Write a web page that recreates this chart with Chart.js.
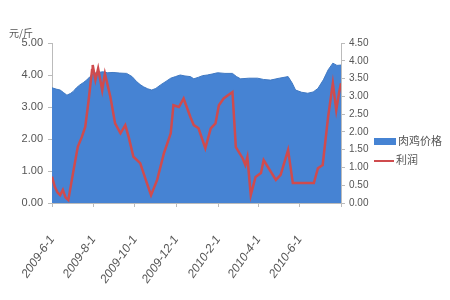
<!DOCTYPE html>
<html>
<head>
<meta charset="utf-8">
<script src="https://cdn.jsdelivr.net/npm/chart.js@4"></script>
<style>
  html, body { margin: 0; padding: 0; background: #fff; }
  #wrap { width: 450px; height: 300px; }
</style>
</head>
<body>
<div id="wrap"><canvas id="chart" width="450" height="300"></canvas></div>
<script>
// x values are days counted from 2009-6-1
const tickDays = [0, 61, 122, 183, 245, 304, 365, 426];
const tickLabels = ['2009-6-1', '2009-8-1', '2009-10-1', '2009-12-1', '2010-2-1', '2010-4-1', '2010-6-1', ''];

// 肉鸡价格 (left axis, 元/斤)
const priceDays = [0, 6, 12, 17, 22, 27, 31, 36, 41, 46, 51, 56, 61, 68, 75, 82, 90, 100, 110, 118, 125, 130, 135, 141, 147, 153, 160, 168, 175, 182, 189, 196, 204, 209, 216, 222, 229, 236, 244, 255, 266, 272, 278, 290, 303, 312, 322, 335, 348, 354, 359, 368, 377, 385, 392, 400, 407, 414, 420, 426];
const priceValues = [3.60, 3.56, 3.53, 3.45, 3.37, 3.42, 3.48, 3.60, 3.69, 3.76, 3.84, 3.95, 4.05, 4.08, 4.10, 4.07, 4.08, 4.06, 4.05, 3.95, 3.79, 3.70, 3.63, 3.57, 3.53, 3.58, 3.69, 3.80, 3.90, 3.95, 4.00, 3.97, 3.95, 3.88, 3.93, 3.98, 4.00, 4.03, 4.07, 4.05, 4.05, 3.95, 3.88, 3.90, 3.90, 3.86, 3.84, 3.90, 3.95, 3.75, 3.53, 3.46, 3.43, 3.47, 3.58, 3.85, 4.16, 4.37, 4.30, 4.31];

// 利润 (right axis)
const profitDays = [0, 4, 8, 12, 16, 20, 24, 31, 38, 44, 49, 54, 59, 60, 64, 68, 74, 78, 86, 93, 101, 108, 113, 120, 130, 140, 146, 155, 165, 175, 179, 187, 194, 204, 209, 216, 226, 234, 241, 246, 253, 266, 271, 281, 285, 288, 293, 300, 308, 312, 330, 337, 348, 355, 371, 386, 392, 399, 407, 414, 419, 423, 426];
const profitValues = [0.74, 0.46, 0.30, 0.22, 0.37, 0.15, 0.08, 0.84, 1.58, 1.86, 2.14, 2.89, 3.74, 3.88, 3.46, 3.78, 3.17, 3.64, 2.99, 2.24, 1.96, 2.19, 1.86, 1.30, 1.12, 0.55, 0.22, 0.65, 1.40, 1.96, 2.75, 2.70, 2.94, 2.42, 2.19, 2.10, 1.54, 2.10, 2.24, 2.75, 2.94, 3.12, 1.57, 1.26, 1.07, 1.29, 0.22, 0.73, 0.84, 1.21, 0.65, 0.79, 1.49, 0.56, 0.56, 0.56, 0.98, 1.07, 2.42, 3.37, 2.61, 3.09, 3.37];

const leftTicks = [0, 1, 2, 3, 4, 5];
const rightTicks = [0, 0.5, 1, 1.5, 2, 2.5, 3, 3.5, 4, 4.5];

const seriesNames = ['肉鸡价格', '利润'];
const unitLabel = '元/斤';

const blue = '#4683d3';
const red = '#cf4b4e';
const textColor = '#555';
const fontFamily = "'Liberation Sans Narrow', 'Liberation Sans', Arial, sans-serif";

function pairs(xs, ys) {
    return xs.map((x, i) => ({ x: x, y: ys[i] }));
}

// legend and unit label drawn on top of the chart
const extras = {
    id: 'extras',
    afterDraw(chart) {
        const c = chart.ctx;
        c.save();
        c.fillStyle = textColor;
        c.font = "10px 'Noto Sans CJK SC', sans-serif";
        c.textBaseline = 'middle';
        c.fillText(unitLabel, 9, 33);

        c.fillStyle = blue;
        c.fillRect(374, 138, 22, 7);
        c.strokeStyle = red;
        c.lineWidth = 2;
        c.beginPath();
        c.moveTo(374, 161);
        c.lineTo(394, 161);
        c.stroke();

        c.fillStyle = textColor;
        c.font = "11px 'Noto Sans CJK SC', sans-serif";
        c.fillText(seriesNames[0], 398, 141);
        c.fillText(seriesNames[1], 396, 160);
        c.restore();
    }
};

const ctx = document.getElementById('chart').getContext('2d');

new Chart(ctx, {
    type: 'line',
    data: {
        datasets: [
            {
                label: seriesNames[1],
                data: pairs(profitDays, profitValues),
                yAxisID: 'y1',
                borderColor: red,
                borderWidth: 2.5,
                pointRadius: 0,
                fill: false,
                order: 0
            },
            {
                label: seriesNames[0],
                data: pairs(priceDays, priceValues),
                yAxisID: 'y',
                borderColor: '#3f78c2',
                backgroundColor: blue,
                borderWidth: 1,
                pointRadius: 0,
                fill: 'origin',
                order: 1
            }
        ]
    },
    options: {
        responsive: false,
        animation: false,
        events: [],
        layout: { padding: { top: 43, right: 76, left: 0, bottom: 0 } },
        plugins: {
            legend: { display: false },
            tooltip: { enabled: false }
        },
        scales: {
            x: {
                type: 'linear',
                min: tickDays[0],
                max: tickDays[tickDays.length - 1],
                afterBuildTicks: function (scale) {
                    scale.ticks = tickDays.map(v => ({ value: v }));
                },
                afterFit: function (scale) {
                    scale.height = 97;
                    scale.paddingLeft = 0;
                    scale.paddingRight = 0;
                },
                grid: { drawOnChartArea: false, drawTicks: true, tickLength: 4, color: '#bbb' },
                border: { color: '#bbb' },
                ticks: {
                    autoSkip: false,
                    maxRotation: 55,
                    minRotation: 55,
                    color: textColor,
                    font: { family: fontFamily, size: 12, style: 'italic' },
                    padding: 26,
                    callback: function (value) {
                        const i = tickDays.indexOf(value);
                        return i >= 0 ? tickLabels[i] : '';
                    }
                }
            },
            y: {
                position: 'left',
                min: 0,
                max: 5,
                afterBuildTicks: function (scale) {
                    scale.ticks = leftTicks.map(v => ({ value: v }));
                },
                afterFit: function (scale) {
                    scale.width = 52;
                },
                grid: { drawOnChartArea: false, drawTicks: true, tickLength: 4, color: '#bbb' },
                border: { color: '#bbb' },
                ticks: {
                    color: textColor,
                    font: { family: fontFamily, size: 11 },
                    padding: 5,
                    callback: function (value) {
                        return value.toFixed(2);
                    }
                }
            },
            y1: {
                position: 'right',
                min: 0,
                max: 4.5,
                afterBuildTicks: function (scale) {
                    scale.ticks = rightTicks.map(v => ({ value: v }));
                },
                afterFit: function (scale) {
                    scale.width = 33;
                },
                grid: { drawOnChartArea: false, drawTicks: true, tickLength: 4, color: '#bbb' },
                border: { color: '#bbb' },
                ticks: {
                    color: textColor,
                    font: { family: fontFamily, size: 10 },
                    padding: 4,
                    callback: function (value) {
                        return value.toFixed(2);
                    }
                }
            }
        }
    },
    plugins: [extras]
});
</script>
</body>
</html>
